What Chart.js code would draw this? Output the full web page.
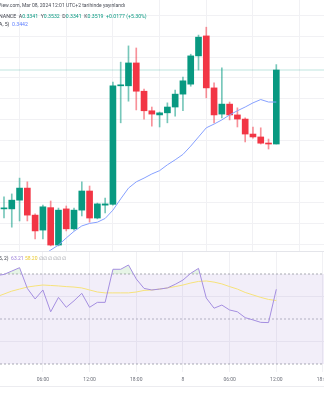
<!DOCTYPE html>
<html><head><meta charset="utf-8">
<script src="https://cdn.jsdelivr.net/npm/chart.js@4.4.1/dist/chart.umd.min.js"></script>
<style>
html,body{margin:0;padding:0;background:#fff;overflow:hidden;width:324px;height:400px;}
#wrap{position:relative;width:324px;height:400px;overflow:hidden;}
canvas{position:absolute;left:0;}
.t{position:absolute;white-space:nowrap;font-family:Roboto,"Liberation Sans",sans-serif;line-height:1;}
.d{color:#3b3e48}.g{color:#089981}.b{color:#5b7cff}.p{color:#9b7fd8}.y{color:#e9c933}.s{color:#9a9ca4}
</style></head><body>
<div id="wrap">
<canvas id="main" width="324" height="252" style="top:0"></canvas>
<div style="position:absolute;left:0;top:251px;width:324px;height:1px;background:#e4e5ea"></div>
<canvas id="rsi" width="324" height="148" style="top:252px"></canvas>
<div style="position:absolute;left:0;top:386px;width:324px;height:1px;background:#ececf0"></div>
<div class="t" style="left:-2px;top:3px;font-size:5px;color:#4a4d57">View.com, Mar 08, 2024 12:01 UTC+2 tarihinde yayınlandı</div>
<div class="t" style="left:-1px;top:14px;font-size:5.2px"><span class="d">NANCE&nbsp; A</span><span class="g">0.3341</span><span class="d">&nbsp; Y</span><span class="g">0.3532</span><span class="d">&nbsp; D</span><span class="g">0.3341</span><span class="d">&nbsp; K</span><span class="g">0.3519</span><span class="g">&nbsp; +0.0177 (+5.30%)</span></div>
<div class="t" style="left:-1px;top:21.5px;font-size:5.2px"><span class="d">A, 5)&nbsp;&nbsp;</span><span class="b">0.3442</span></div>
<div class="t" style="left:-1px;top:255.5px;font-size:5px"><span class="d">5, 2)&nbsp;&nbsp;</span><span class="p">63.21</span>&nbsp;<span class="y">58.20</span>&nbsp;<span class="s" style="letter-spacing:0.6px">∅∅∅∅∅∅</span></div>
</div>
<script>
// hourly candles, index 0 = Mar 7 01:00
const opens  = [0.3185,0.3185,0.3206,0.3235,0.3170,0.3134,0.3188,0.3098,0.3185,0.3137,0.3182,0.3228,0.3163,0.3194,0.3196,0.3481,0.3481,0.3536,0.3468,0.3421,0.3411,0.3416,0.3430,0.3461,0.3485,0.3553,0.3601,0.3476,0.3413,0.3437,0.3411,0.3401,0.3365,0.3358,0.3343,0.3341];
const highs  = [0.3214,0.3221,0.3259,0.3250,0.3173,0.3194,0.3204,0.3187,0.3192,0.3187,0.3250,0.3240,0.3199,0.3211,0.3490,0.3538,0.3577,0.3572,0.3473,0.3430,0.3418,0.3440,0.3471,0.3502,0.3557,0.3603,0.3622,0.3488,0.3524,0.3442,0.3428,0.3404,0.3382,0.3380,0.3353,0.3532];
const lows   = [0.3163,0.3141,0.3156,0.3156,0.3113,0.3113,0.3096,0.3096,0.3132,0.3134,0.3168,0.3153,0.3161,0.3175,0.3194,0.3392,0.3444,0.3423,0.3401,0.3384,0.3382,0.3392,0.3408,0.3421,0.3480,0.3519,0.3452,0.3392,0.3404,0.3399,0.3382,0.3346,0.3355,0.3341,0.3329,0.3341];
const closes = [0.3186,0.3206,0.3235,0.3170,0.3132,0.3190,0.3098,0.3182,0.3137,0.3182,0.3228,0.3163,0.3197,0.3197,0.3481,0.3483,0.3536,0.3468,0.3421,0.3413,0.3416,0.3430,0.3461,0.3493,0.3553,0.3598,0.3476,0.3411,0.3437,0.3411,0.3401,0.3365,0.3358,0.3343,0.3341,0.3519];
const ma     = [null,null,null,null,0.3057,0.3072,0.3086,0.3098,0.3115,0.3131,0.3144,0.3150,0.3153,0.3162,0.3182,0.3209,0.3235,0.3250,0.3259,0.3269,0.3277,0.3291,0.3303,0.3316,0.3336,0.3358,0.3380,0.3389,0.3399,0.3411,0.3421,0.3430,0.3440,0.3448,0.3442,0.3442];
// RSI arrays start one hour earlier (index 0 = Mar 7 00:00)
const rsiStart = -1;
const rsi    = [69.3,69.8,71.3,72.8,63.6,58.9,62.9,53.2,59.6,55.2,58.1,61.4,55.2,57.4,57.4,72.1,72.1,74.0,67.8,63.6,62.9,63.3,63.8,65.4,67.3,70.3,72.5,59.3,54.8,56.2,54.0,53.2,50.6,49.6,48.5,48.4,63.21];
const rsiMa  = [59.8,61.1,62.4,63.3,64.2,64.7,65.1,64.9,64.7,64.4,64.2,63.8,62.9,62.0,61.6,61.6,61.6,61.6,62.0,62.7,62.9,63.3,63.8,64.4,65.1,66.0,66.7,66.9,66.4,65.6,64.4,63.3,61.8,60.7,59.6,58.7,58.2];
const rsiBands = [70, 50, 30];
const tickIdx = [5, 11, 17, 23, 29, 35, 41];
const timeLabels = ['06:00', '12:00', '18:00', '8', '06:00', '12:00', '18:00'];
const priceGrid = [0.310,0.315,0.320,0.325,0.330,0.335,0.340,0.345,0.350,0.355,0.360,0.365];
const rsiGrid = [40, 60, 80];

const UP = '#089981', DOWN = '#f23645';
const UPW = 'rgba(8,153,129,0.55)', DOWNW = 'rgba(242,54,69,0.55)';
const X_MIN = -0.514, X_MAX = 41.13;
const GRID = '#f1f1f4';

const isUp = i => closes[i] >= opens[i];
const xTicks = s => { s.ticks = tickIdx.map(v => ({value: v})); };
const noPadX = h => s => { s.height = h; s.paddingLeft = 0; s.paddingRight = 0; s.paddingTop = 0; s.paddingBottom = 0; };
const noPadY = s => { s.width = 0; s.paddingTop = 0; s.paddingBottom = 0; s.paddingLeft = 0; s.paddingRight = 0; };

const common = {
  responsive: false, animation: false, events: [],
  layout: {padding: 0},
  plugins: {legend: {display: false}, tooltip: {enabled: false}}
};

new Chart(document.getElementById('main'), {
  type: 'bar',
  data: {
    datasets: [
      {
        type: 'line', order: 0,
        data: ma.map((v, i) => ({x: i, y: v})),
        borderColor: '#86a0ff', borderWidth: 1, pointRadius: 0, tension: 0, spanGaps: false
      },
      {
        order: 1, grouped: false, barThickness: 6, minBarLength: 1,
        data: opens.map((o, i) => ({x: i, y: [o, closes[i]]})),
        backgroundColor: c => isUp(c.dataIndex) ? UP : DOWN, borderWidth: 0
      },
      {
        order: 2, grouped: false, barThickness: 1,
        data: lows.map((l, i) => ({x: i, y: [l, highs[i]]})),
        backgroundColor: c => isUp(c.dataIndex) ? UPW : DOWNW, borderWidth: 0
      },
      {
        type: 'line', order: 3,
        data: [{x: X_MIN, y: closes[closes.length - 1]}, {x: X_MAX, y: closes[closes.length - 1]}],
        borderColor: 'rgba(8,153,129,0.13)', borderWidth: 2, pointRadius: 0
      }
    ]
  },
  options: Object.assign({}, common, {
    scales: {
      x: {type: 'linear', min: X_MIN, max: X_MAX, offset: false,
          afterBuildTicks: xTicks, afterFit: noPadX(0),
          grid: {color: GRID, drawTicks: false}, border: {display: false},
          ticks: {display: false}},
      y: {type: 'linear', min: 0.30813, max: 0.36874,
          afterBuildTicks: s => { s.ticks = priceGrid.map(v => ({value: v})); }, afterFit: noPadY,
          grid: {color: GRID, drawTicks: false}, border: {display: false},
          ticks: {display: false}}
    }
  })
});

const bandLine = v => ({x: X_MIN, y: v});
new Chart(document.getElementById('rsi'), {
  type: 'line',
  data: {
    datasets: [
      {
        order: 0, data: rsi.map((v, i) => ({x: i + rsiStart, y: v})),
        borderColor: '#a48ee0', borderWidth: 1, pointRadius: 0, tension: 0,
        fill: {target: {value: 70}, above: 'rgba(76,175,80,0.14)', below: 'rgba(0,0,0,0)'}
      },
      {
        order: 1, data: rsiMa.map((v, i) => ({x: i + rsiStart, y: v})),
        borderColor: '#f6e27a', borderWidth: 1, pointRadius: 0, tension: 0, fill: false
      },
      {
        order: 10, data: [bandLine(rsiBands[0]), {x: X_MAX, y: rsiBands[0]}],
        borderColor: '#a9abb3', borderWidth: 1, borderDash: [2, 2], pointRadius: 0,
        fill: 4, backgroundColor: 'rgba(126,87,194,0.1)'
      },
      {
        order: 10, data: [bandLine(rsiBands[1]), {x: X_MAX, y: rsiBands[1]}],
        borderColor: '#b8bac1', borderWidth: 1, borderDash: [2, 2], pointRadius: 0, fill: false
      },
      {
        order: 10, data: [bandLine(rsiBands[2]), {x: X_MAX, y: rsiBands[2]}],
        borderColor: '#a9abb3', borderWidth: 1, borderDash: [2, 2], pointRadius: 0, fill: false
      }
    ]
  },
  options: Object.assign({}, common, {
    scales: {
      x: {type: 'linear', min: X_MIN, max: X_MAX, offset: false,
          afterBuildTicks: xTicks, afterFit: noPadX(28),
          grid: {color: GRID, drawTicks: false}, border: {display: false},
          ticks: {display: true, autoSkip: false, maxRotation: 0, padding: 5,
                  color: '#6e717b', font: {size: 5, family: 'Roboto, "Liberation Sans", sans-serif'},
                  callback: v => timeLabels[tickIdx.indexOf(v)]}},
      y: {type: 'linear', min: 26.44, max: 79.78,
          afterBuildTicks: s => { s.ticks = rsiGrid.map(v => ({value: v})); }, afterFit: noPadY,
          grid: {color: GRID, drawTicks: false}, border: {display: false},
          ticks: {display: false}}
    }
  })
});
</script>
</body></html>
